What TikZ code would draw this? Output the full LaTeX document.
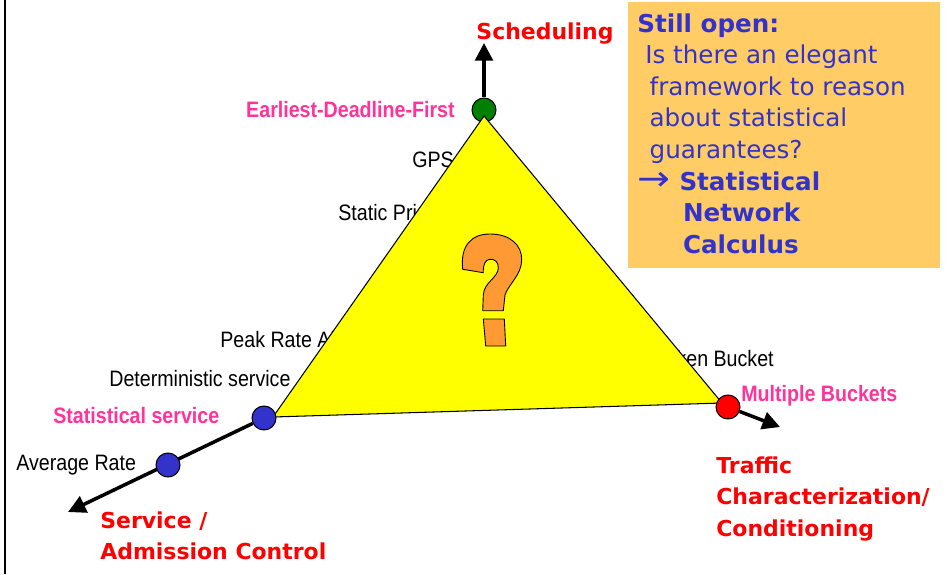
\documentclass[tikz,border=0pt]{standalone}
\usepackage{fontspec}
\usepackage{graphicx}
\usetikzlibrary{arrows.meta}

\newfontfamily\arialfont[FakeStretch=0.88]{Liberation Sans}
\newfontfamily\comicfont{DejaVu Sans}

\definecolor{notebg}{HTML}{FFCC66}
\definecolor{noteblue}{HTML}{3333CC}
\definecolor{hotpink}{HTML}{FF3399}
\definecolor{qorange}{HTML}{FF9933}
\definecolor{edfgreen}{HTML}{008000}
\definecolor{triyellow}{HTML}{FFFF00}

\pgfdeclarelayer{bg}
\pgfsetlayers{bg,main}

\tikzset{
	axis/.style={line width=2pt, -{Triangle[length=10pt,width=10pt]}},
	vertexdot/.style={circle, draw=black, line width=0.6pt, minimum size=0.48cm, inner sep=0pt},
	entry/.style={inner sep=0pt, font=\arialfont\fontsize{12.7}{15}\selectfont},
	pinkentry/.style={inner sep=0pt, text=hotpink, font=\arialfont\bfseries\fontsize{12.7}{15}\selectfont},
	axislabel/.style={inner sep=0pt, text=red, align=left, font=\comicfont\bfseries\fontsize{12.5}{18}\selectfont},
}

\begin{document}
\begin{tikzpicture}[x=0.02cm, y=-0.02cm]
	\useasboundingbox (0,0) rectangle (952,574);
	\draw[line width=1.6pt] (5,0) -- (5,574);
	
	% labels along the edges
	\node[entry, anchor=base west] (gps) at (412,168) {GPS};
	\node[entry, anchor=base west] (prio) at (338,220) {Static Priority};
	\node[entry, anchor=base west] (peak) at (220,347) {Peak Rate Allocation};
	\node[entry, anchor=base west] (determ) at (109,386) {Deterministic service};
	\node[entry, anchor=base west] (avgrate) at (16,470) {Average Rate};
	\node[entry, anchor=base east] (token) at (774,366) {Token Bucket};
	
	% triangle and its corners
	\coordinate (apex) at (484,116);
	\coordinate (lcorner) at (273,417);
	\coordinate (rcorner) at (722,403);
	\node[vertexdot, fill=edfgreen] (edf) at (484,110) {};
	\filldraw[fill=triyellow, draw=black, line width=0.6pt] (apex) -- (lcorner) -- (rcorner) -- cycle;
	\node[vertexdot, fill=noteblue] (stat) at (264,418) {};
	\node[vertexdot, fill=noteblue] (avg) at (168,465) {};
	\node[vertexdot, fill=red] (mult) at (728,407) {};
	
	% axes
	\coordinate (schedtip) at (484,43);
	\coordinate (admtip) at (68,512);
	\coordinate (traftip) at (780,427);
	\begin{pgfonlayer}{bg}
		\draw[axis] (edf) -- (schedtip);
		\draw[axis] (stat) -- (admtip);
		\draw[axis] (mult) -- (traftip);
	\end{pgfonlayer}
	
	% question mark
	\filldraw[fill=qorange, draw=black, line width=0.5pt]
		(462.7,269.3) .. controls (460,245) and (472,234) .. (490,234)
		.. controls (510,234) and (522,245) .. (521.7,260)
		.. controls (521.5,275) and (508,285) .. (505,295)
		-- (503.3,310.7) -- (482.7,310.7) -- (483.3,295)
		.. controls (484,282) and (498,278) .. (498.3,268)
		.. controls (498.5,262) and (495,259) .. (490,259.3)
		.. controls (485,259.5) and (483,265) .. (483.3,272.7) -- cycle;
	\filldraw[fill=qorange, draw=black, line width=0.5pt]
		(483.3,319) -- (504.3,319) -- (505.7,346) -- (485.7,346) -- cycle;
	
	% axis names
	\node[axislabel, anchor=base] (sched) at (545,40) {Scheduling};
	\node[axislabel, anchor=north west] (adm) at (100,511) {Service /\\Admission Control};
	\node[axislabel, anchor=north west] (traf) at (716,456) {Traffic\\Characterization/\\Conditioning};
	
	% pink labels
	\node[pinkentry, anchor=base east] (edflbl) at (455,118) {Earliest-Deadline-First};
	\node[pinkentry, anchor=base west] (statlbl) at (53,423) {Statistical service};
	\node[pinkentry, anchor=base west] (multlbl) at (741,401) {Multiple Buckets};
	
	% open question
	\fill[notebg] (628,2) rectangle (940,268);
	\node[anchor=north west, inner sep=0pt, align=left, text=noteblue,
		font=\comicfont\fontsize{14}{18}\selectfont] (note) at (637,13)
		{\textbf{Still open:}\\
		\hspace*{4.5pt}Is there an elegant\\
		\hspace*{7pt}framework to reason\\
		\hspace*{7pt}about statistical\\
		\hspace*{7pt}guarantees?\\
		\makebox[24pt][l]{\scalebox{1.6}[1.4]{→}}\textbf{Statistical}\\
		\hspace*{26pt}\textbf{Network}\\
		\hspace*{26pt}\textbf{Calculus}};
\end{tikzpicture}
\end{document}
